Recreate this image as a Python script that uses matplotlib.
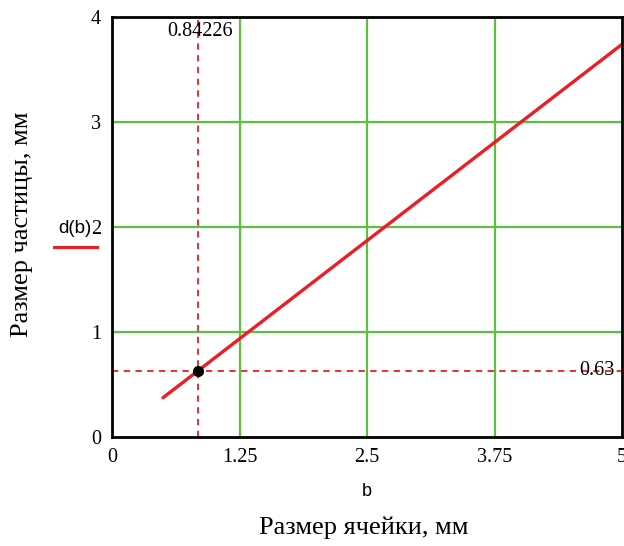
import matplotlib
matplotlib.use("Agg")
import matplotlib.pyplot as plt
from matplotlib.lines import Line2D

# Data
b_vals = [0.5, 0.84226, 1.25, 2.5, 3.75, 5.0]
d_vals = [0.374, 0.63, 0.935, 1.87, 2.805, 3.74]
b_mark = 0.84226
d_mark = 0.63
x_ticks = [0, 1.25, 2.5, 3.75, 5]
x_tick_labels = ["0", "1.25", "2.5", "3.75", "5"]
y_ticks = [0, 1, 2, 3, 4]
y_tick_labels = ["0", "1", "2", "3", "4"]

W, H = 624, 546
fig = plt.figure(figsize=(W / 100, H / 100), dpi=100)
L, R, T, B = 112, 622, 17, 437
ax = fig.add_axes([L / W, 1 - B / H, (R - L) / W, (B - T) / H])

serif = "Liberation Serif"
sans = "Liberation Sans"
green = "#5cc043"
red = "#ee1c24"

ax.set_xlim(0, 5)
ax.set_ylim(0, 4)
for g in [1.25, 2.5, 3.75]:
    ax.axvline(g, color=green, lw=1.6, zorder=1)
for g in [1, 2, 3]:
    ax.axhline(g, color=green, lw=1.6, zorder=1)

ax.plot([b_mark, b_mark], [0, 4], color=red, lw=1.3, ls=(0, (3.5, 3)), zorder=2)
ax.plot([0, 5], [d_mark, d_mark], color=red, lw=1.3, ls=(0, (3.5, 3)), zorder=2)
ax.plot(b_vals, d_vals, color=red, lw=2.4, zorder=3, solid_capstyle="round")
ax.plot([b_mark], [d_mark], "o", color="black", ms=7, zorder=4)

ax.text(b_mark + 0.02, 3.86, "0.84226", ha="center", va="center",
        family=serif, fontsize=14.5, color="black")
ax.text(4.93, d_mark, "0.63", ha="right", va="center",
        family=serif, fontsize=14.5, color="black")

ax.set_xticks(x_ticks)
ax.set_xticklabels(x_tick_labels, family=serif, fontsize=14.5)
ax.set_yticks(y_ticks)
ax.set_yticklabels(y_tick_labels, family=serif, fontsize=14.5)
ax.tick_params(length=0, pad=8)
for s in ax.spines.values():
    s.set_linewidth(2)
    s.set_color("black")
    s.set_zorder(5)

fig.text(367 / W, 1 - 492 / H, "b", ha="center", va="center", family=sans, fontsize=13)
fig.text(364 / W, 1 - 528 / H, "Размер ячейки, мм", ha="center", va="center",
         family=serif, fontsize=19)
fig.text(22 / W, 1 - 224 / H, "Размер частицы, мм", ha="center", va="center",
         rotation=90, family=serif, fontsize=19)
fig.text(75 / W, 1 - 228 / H, "d(b)", ha="center", va="center", family=sans, fontsize=13.5)
fig.add_artist(Line2D([54 / W, 97 / W], [1 - 247 / H, 1 - 247 / H], color=red, lw=2.2))

fig.savefig("out.png", dpi=100)
